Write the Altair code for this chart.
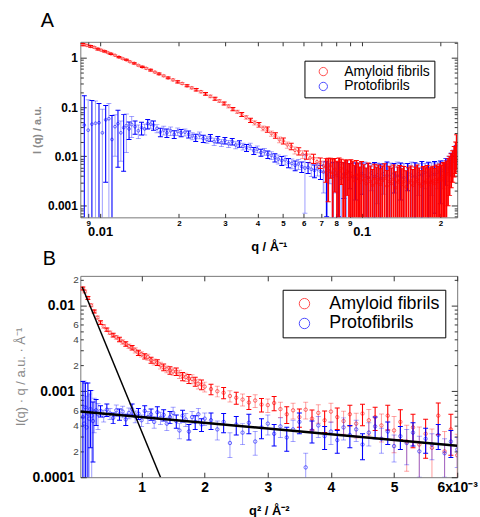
import altair as alt
import pandas as pd

RED = "#ff0000"
BLUE = "#0000ff"
FONT = "Liberation Sans"
SERIES = ["Amyloid fibrils", "Protofibrils"]

# ---------------- Panel A : I(q) vs q (log-log) ----------------
qA_red_smooth = [0.0086, 0.0089, 0.0092, 0.0095, 0.0098, 0.0101, 0.0104, 0.0107, 0.0110, 0.0114,
                 0.0118, 0.0122, 0.0126, 0.0130, 0.0135, 0.0140, 0.0145, 0.0150, 0.0156, 0.0162,
                 0.0168, 0.0175, 0.0182, 0.0190, 0.0198, 0.0206, 0.0215, 0.0224, 0.0233, 0.0243,
                 0.0253, 0.0264, 0.0275, 0.0286, 0.0298, 0.0310, 0.0322, 0.0335, 0.0348, 0.0362,
                 0.0376, 0.0390, 0.0405, 0.0420, 0.0436, 0.0452, 0.0468, 0.0485, 0.0502, 0.0520,
                 0.0538, 0.0556, 0.0575, 0.0595, 0.0615, 0.0635, 0.0655, 0.0675, 0.0695, 0.0715]
IA_red_smooth = [1.85, 1.78, 1.70, 1.62, 1.50, 1.42, 1.35, 1.27, 1.20, 1.12,
                 1.03, 0.96, 0.90, 0.83, 0.77, 0.70, 0.65, 0.61, 0.56, 0.51,
                 0.47, 0.43, 0.39, 0.355, 0.325, 0.30, 0.27, 0.245, 0.225, 0.205,
                 0.185, 0.165, 0.148, 0.133, 0.118, 0.104, 0.091, 0.080, 0.071, 0.062,
                 0.054, 0.048, 0.044, 0.037, 0.0352, 0.0292, 0.0268, 0.0218, 0.0206, 0.0171,
                 0.0160, 0.0133, 0.0128, 0.0110, 0.0108, 0.0093, 0.0091, 0.0078, 0.0075, 0.0064]
relerrA_red_smooth = [0.05, 0.04, 0.04, 0.04, 0.04, 0.04, 0.03, 0.03, 0.03, 0.03,
                      0.03, 0.03, 0.03, 0.03, 0.03, 0.03, 0.03, 0.04, 0.04, 0.04,
                      0.04, 0.04, 0.04, 0.05, 0.05, 0.05, 0.05, 0.05, 0.06, 0.06,
                      0.06, 0.06, 0.07, 0.07, 0.07, 0.08, 0.08, 0.08, 0.09, 0.09,
                      0.10, 0.10, 0.11, 0.11, 0.12, 0.12, 0.13, 0.13, 0.14, 0.15,
                      0.15, 0.16, 0.17, 0.18, 0.19, 0.20, 0.21, 0.22, 0.24, 0.26]
qA_red_noisy = [0.0730, 0.0745, 0.0760, 0.0775, 0.0790, 0.0805, 0.0820, 0.0835, 0.0850, 0.0865,
                0.0880, 0.0895, 0.0910, 0.0925, 0.0940, 0.0955, 0.0970, 0.0985, 0.1000, 0.1020,
                0.1040, 0.1060, 0.1080, 0.1100, 0.1120, 0.1140, 0.1160, 0.1180, 0.1200, 0.1225,
                0.1250, 0.1275, 0.1300, 0.1325, 0.1350, 0.1375, 0.1400, 0.1425, 0.1450, 0.1480,
                0.1510, 0.1540, 0.1570, 0.1600, 0.1630, 0.1660, 0.1690, 0.1720, 0.1750, 0.1780,
                0.1810, 0.1840, 0.1870, 0.1900, 0.1930, 0.1960, 0.1990, 0.2020, 0.2050, 0.2080,
                0.2110, 0.2140, 0.2170, 0.2200, 0.2230, 0.2260, 0.2290, 0.2310]
IA_red_noisy = [0.0060, 0.0052, 0.0064, 0.0046, 0.0055, 0.0041, 0.0049, 0.0057, 0.0038, 0.0044,
                0.0050, 0.0035, 0.0045, 0.0039, 0.0032, 0.0042, 0.0036, 0.0030, 0.0040, 0.0033,
                0.0028, 0.0037, 0.0031, 0.0026, 0.0035, 0.0029, 0.0034, 0.0027, 0.0032, 0.0036,
                0.0025, 0.0031, 0.0028, 0.0034, 0.0023, 0.0030, 0.0033, 0.0027, 0.0031, 0.0024,
                0.0029, 0.0032, 0.0026, 0.0030, 0.0034, 0.0028, 0.0025, 0.0031, 0.0029, 0.0033,
                0.0027, 0.0030, 0.0032, 0.0028, 0.0034, 0.0031, 0.0036, 0.0033, 0.0039, 0.0037,
                0.0043, 0.0050, 0.0058, 0.0068, 0.0080, 0.0098, 0.0120, 0.0165]
errA_red_noisy = [0.0030, 0.0040, 0.0028, 0.0042, 0.0036, 0.0039, 0.0044, 0.0030, 0.0038, 0.0040,
                  0.0034, 0.0036, 0.0040, 0.0041, 0.0034, 0.0040, 0.0037, 0.0031, 0.0039, 0.0035,
                  0.0030, 0.0036, 0.0033, 0.0028, 0.0034, 0.0031, 0.0033, 0.0029, 0.0032, 0.0035,
                  0.0027, 0.0032, 0.0030, 0.0033, 0.0026, 0.0031, 0.0032, 0.0029, 0.0031, 0.0027,
                  0.0030, 0.0032, 0.0028, 0.0031, 0.0033, 0.0030, 0.0027, 0.0031, 0.0030, 0.0032,
                  0.0029, 0.0030, 0.0031, 0.0029, 0.0033, 0.0031, 0.0034, 0.0032, 0.0036, 0.0035,
                  0.0038, 0.0040, 0.0042, 0.0045, 0.0050, 0.0060, 0.0075, 0.0110]

qA_blue = [0.0087, 0.0090, 0.0093, 0.0096, 0.0099, 0.0102, 0.0105, 0.0108, 0.0111, 0.0114,
           0.0117, 0.0120, 0.0123, 0.0126, 0.0129, 0.0132, 0.0136, 0.0140, 0.0144, 0.0148,
           0.0152, 0.0156, 0.0160, 0.0165, 0.0170, 0.0175, 0.0180, 0.0186, 0.0192, 0.0198,
           0.0204, 0.0211, 0.0218, 0.0225, 0.0232, 0.0240, 0.0248, 0.0256, 0.0264, 0.0273,
           0.0282, 0.0291, 0.0300, 0.0310, 0.0320, 0.0330, 0.0341, 0.0352, 0.0363, 0.0375,
           0.0387, 0.0399, 0.0412, 0.0425, 0.0438, 0.0452, 0.0466, 0.0480, 0.0495, 0.0510,
           0.0525, 0.0541, 0.0557, 0.0573, 0.0590, 0.0607, 0.0624, 0.0642, 0.0660, 0.0678, 0.0696]
IA_blue = [0.043, 0.034, 0.045, 0.047, 0.048, 0.030, 0.055, 0.058, 0.022, 0.040,
           0.046, 0.030, 0.038, 0.042, 0.036, 0.044, 0.040, 0.033, 0.038, 0.036,
           0.046, 0.045, 0.043, 0.037, 0.031, 0.034, 0.030, 0.033, 0.028, 0.032,
           0.030, 0.031, 0.028, 0.026, 0.024, 0.027, 0.023, 0.022, 0.024, 0.020,
           0.022, 0.019, 0.021, 0.018, 0.020, 0.017, 0.018, 0.016, 0.015, 0.016,
           0.013, 0.014, 0.012, 0.0125, 0.011, 0.0105, 0.0095, 0.0088, 0.0082, 0.0085,
           0.0075, 0.0072, 0.0066, 0.0070, 0.0062, 0.0058, 0.0060, 0.0055, 0.0052, 0.0056, 0.0050]
errA_blue = [0.127, 0.106, 0.090, 0.085, 0.070, 0.060, 0.052, 0.060, 0.045, 0.030,
             0.040, 0.022, 0.033, 0.030, 0.014, 0.020, 0.012, 0.010, 0.011, 0.009,
             0.010, 0.008, 0.009, 0.007, 0.006, 0.007, 0.006, 0.0065, 0.005, 0.0055,
             0.005, 0.005, 0.0045, 0.0042, 0.004, 0.0042, 0.0038, 0.0036, 0.0038, 0.0033,
             0.0034, 0.0031, 0.0032, 0.0029, 0.003, 0.0027, 0.0027, 0.0025, 0.0024, 0.0024,
             0.0021, 0.0022, 0.002, 0.002, 0.0019, 0.0019, 0.0018, 0.0018, 0.0017, 0.0018,
             0.0016, 0.0016, 0.0015, 0.0016, 0.0015, 0.0051, 0.0015, 0.0016, 0.0015, 0.0016, 0.0016]
qA_blue_noisy = [0.0715, 0.0735, 0.0755, 0.0775, 0.0795, 0.0815, 0.0835, 0.0855, 0.0875, 0.0900,
                 0.0925, 0.0950, 0.0975, 0.1000, 0.1030, 0.1060, 0.1090, 0.1120, 0.1150, 0.1180,
                 0.1210, 0.1250, 0.1290, 0.1330, 0.1370, 0.1410, 0.1450, 0.1500, 0.1550, 0.1600,
                 0.1650, 0.1700, 0.1750, 0.1800, 0.1850, 0.1900, 0.1950, 0.2000, 0.2050, 0.2100,
                 0.2150, 0.2200, 0.2250, 0.2300]
IA_blue_noisy = [0.0048, 0.0042, 0.0050, 0.0039, 0.0046, 0.0041, 0.0036, 0.0044, 0.0040, 0.0047,
                 0.0038, 0.0043, 0.0035, 0.0045, 0.0040, 0.0037, 0.0046, 0.0039, 0.0042, 0.0036,
                 0.0044, 0.0041, 0.0038, 0.0045, 0.0040, 0.0043, 0.0037, 0.0046, 0.0041, 0.0039,
                 0.0044, 0.0042, 0.0047, 0.0040, 0.0045, 0.0043, 0.0048, 0.0046, 0.0052, 0.0058,
                 0.0066, 0.0078, 0.0095, 0.0120]
errA_blue_noisy = [0.0030, 0.0036, 0.0022, 0.0037, 0.0028, 0.0035, 0.0033, 0.0030, 0.0038, 0.0025,
                   0.0036, 0.0030, 0.0034, 0.0028, 0.0037, 0.0035, 0.0026, 0.0036, 0.0031, 0.0034,
                   0.0027, 0.0036, 0.0035, 0.0027, 0.0037, 0.0030, 0.0035, 0.0026, 0.0036, 0.0035,
                   0.0028, 0.0037, 0.0025, 0.0036, 0.0029, 0.0036, 0.0026, 0.0035, 0.0030, 0.0032,
                   0.0035, 0.0038, 0.0040, 0.0045]

# ---------------- Panel B : I(q)*q vs q^2 (Guinier) ----------------
# q^2 in units of 1e-3 A^-2, I*q in units of 1e-4
q2B_red_milli = [0.07, 0.10, 0.15, 0.20, 0.25, 0.30, 0.35, 0.40, 0.45, 0.50,
                 0.55, 0.60, 0.65, 0.70, 0.75, 0.80, 0.85, 0.90, 0.95, 1.00,
                 1.05, 1.10, 1.15, 1.20, 1.25, 1.30, 1.35, 1.40, 1.45, 1.50,
                 1.55, 1.60, 1.65, 1.70, 1.75, 1.80, 1.85, 1.90, 1.95, 2.00,
                 2.1, 2.2, 2.3, 2.4, 2.5, 2.6, 2.7, 2.8, 2.9, 3.0,
                 3.1, 3.2, 3.3, 3.4, 3.5, 3.6, 3.7, 3.8, 3.9, 4.0,
                 4.1, 4.2, 4.3, 4.4, 4.5, 4.6, 4.7, 4.8, 4.9, 5.0,
                 5.1, 5.2, 5.3, 5.4, 5.5, 5.6, 5.7, 5.8, 5.9, 6.0]
IqB_red_e4 = [157, 145, 122, 100, 85, 72, 63, 57, 52, 48,
              45, 42.5, 40, 37.5, 35.5, 33.5, 32.2, 30, 28.0, 27,
              25.5, 25.0, 23, 22, 21.6, 20, 19, 18.0, 17.5, 17,
              16.9, 15.8, 14.9, 14.6, 14, 13.9, 13, 12.2, 12, 11.3,
              10.6, 10.0, 9.6, 8.8, 8.4, 8.0, 7.4, 7.8, 7.0, 6.9,
              7.3, 6.2, 5.4, 6.0, 5.0, 6.1, 4.8, 5.6, 4.6, 5.8,
              5.0, 4.5, 5.4, 4.2, 5.5, 4.6, 5.0, 4.0, 5.2, 3.5,
              4.4, 2.6, 3.8, 2.4, 3.2, 2.2, 5.2, 2.0, 3.6, 1.8]
relerrB_red = [0.04, 0.04, 0.04, 0.04, 0.04, 0.04, 0.05, 0.05, 0.05, 0.05,
               0.05, 0.05, 0.06, 0.06, 0.06, 0.06, 0.06, 0.07, 0.07, 0.07,
               0.07, 0.08, 0.08, 0.08, 0.08, 0.09, 0.09, 0.09, 0.10, 0.10,
               0.10, 0.11, 0.11, 0.11, 0.12, 0.12, 0.12, 0.13, 0.13, 0.13,
               0.14, 0.14, 0.15, 0.15, 0.16, 0.16, 0.17, 0.17, 0.18, 0.18,
               0.19, 0.20, 0.22, 0.21, 0.24, 0.22, 0.26, 0.24, 0.28, 0.25,
               0.28, 0.30, 0.27, 0.32, 0.28, 0.33, 0.30, 0.36, 0.32, 0.45,
               0.38, 0.55, 0.42, 0.60, 0.48, 0.65, 0.40, 0.70, 0.50, 0.75]

q2B_blue_milli = [0.07, 0.09, 0.11, 0.13, 0.15, 0.17, 0.19, 0.21, 0.23, 0.25, 0.28, 0.31,
                  0.35, 0.40, 0.45, 0.50, 0.55, 0.60, 0.65, 0.70, 0.75, 0.80,
                  0.85, 0.90, 0.95, 1.00, 1.05, 1.10, 1.15, 1.20, 1.25, 1.30,
                  1.35, 1.40, 1.45, 1.50, 1.55, 1.60, 1.65, 1.70, 1.75, 1.80,
                  1.85, 1.90, 1.95, 2.00,
                  2.1, 2.2, 2.3, 2.4, 2.5, 2.6, 2.7, 2.8, 2.9, 3.0,
                  3.1, 3.2, 3.3, 3.4, 3.5, 3.6, 3.7, 3.8, 3.9, 4.0,
                  4.1, 4.2, 4.3, 4.4, 4.5, 4.6, 4.7, 4.8, 4.9, 5.0,
                  5.1, 5.2, 5.3, 5.4, 5.5, 5.6, 5.7, 5.8, 5.9, 6.0]
IqB_blue_e4 = [5.0, 4.2, 6.5, 3.8, 5.5, 4.8, 6.2, 5.2, 4.5, 5.8, 6.0, 5.4,
               5.9, 5.2, 6.1, 5.5, 4.9, 6.0, 5.4, 5.8, 4.7, 5.6,
               6.2, 5.1, 5.5, 4.6, 5.9, 5.0, 5.4, 4.4, 5.7, 4.9,
               5.3, 4.2, 5.0, 5.6, 4.5, 3.5, 5.2, 4.7, 3.4, 5.0,
               4.4, 5.4, 4.1, 4.8,
               4.6, 3.6, 4.4, 2.5, 4.1, 3.3, 4.3, 2.6, 3.8, 4.2,
               3.2, 3.9, 2.9, 3.6, 4.4, 1.3, 3.5, 4.0, 3.0, 3.4,
               2.7, 3.8, 3.1, 3.6, 2.4, 3.3, 3.9, 2.8, 3.4, 2.3,
               3.0, 2.5, 3.3, 2.0, 2.8, 2.4, 3.1, 1.9, 2.6, 2.1]
errB_blue_e4 = [8, 9, 6, 5, 7, 4.5, 4, 5, 3, 2.5, 2.0, 1.8,
                0.9, 0.8, 1.0, 0.8, 0.7, 0.9, 0.8, 0.9, 0.7, 0.8,
                0.9, 0.8, 0.8, 0.7, 0.9, 0.8, 0.8, 0.7, 0.9, 0.8,
                0.8, 0.7, 0.8, 0.9, 0.8, 0.7, 0.8, 0.8, 0.7, 0.8,
                0.8, 0.9, 0.7, 0.8,
                1.0, 0.9, 1.1, 0.8, 1.0, 0.9, 1.1, 0.8, 1.0, 1.1,
                0.9, 1.0, 0.9, 1.0, 1.2, 0.6, 1.0, 1.1, 0.9, 1.0,
                0.8, 1.1, 0.9, 1.0, 0.8, 1.0, 1.1, 0.9, 1.0, 0.8,
                0.9, 1.1, 1.0, 1.0, 0.9, 0.8, 1.0, 0.9, 0.9, 0.8]

# Guinier fit lines (end points)
fit_steep_x = [0.00006, 0.0013]
fit_steep_y = [0.0163, 0.0001]
fit_flat_x = [0.00003, 0.006]
fit_flat_y = [0.00058, 0.000232]


def make_df(x, y, err, series, shades, widths):
    df = pd.DataFrame({"x": x, "y": y, "err": err})
    df["lo"] = (df["y"] - df["err"]).clip(lower=1e-7)
    df["hi"] = df["y"] + df["err"]
    df["series"] = series
    df["shade"] = shades
    df["w"] = widths
    return df


def alt_shades(n):
    return ["dark" if i % 2 == 0 else "light" for i in range(n)]


nrs, nrn = len(qA_red_smooth), len(qA_red_noisy)
dfA_red = make_df(qA_red_smooth + qA_red_noisy,
                  IA_red_smooth + IA_red_noisy,
                  [i * r for i, r in zip(IA_red_smooth, relerrA_red_smooth)] + errA_red_noisy,
                  SERIES[0],
                  alt_shades(nrs) + ["dark"] * nrn,
                  [1.1] * nrs + [1.8] * nrn)
nbs, nbn = len(qA_blue), len(qA_blue_noisy)
dfA_blue = make_df(qA_blue + qA_blue_noisy, IA_blue + IA_blue_noisy,
                   errA_blue + errA_blue_noisy, SERIES[1],
                   alt_shades(nbs + nbn), [1.1] * nbs + [1.6] * nbn)

yB_red = [v * 1e-4 for v in IqB_red_e4]
dfB_red = make_df([v * 1e-3 for v in q2B_red_milli], yB_red,
                  [y * r for y, r in zip(yB_red, relerrB_red)], SERIES[0],
                  alt_shades(len(yB_red)), [1.1] * len(yB_red))
dfB_blue = make_df([v * 1e-3 for v in q2B_blue_milli], [v * 1e-4 for v in IqB_blue_e4],
                   [v * 1e-4 for v in errB_blue_e4], SERIES[1],
                   alt_shades(len(IqB_blue_e4)), [1.1] * len(IqB_blue_e4))
df_steep = pd.DataFrame({"x": fit_steep_x, "y": fit_steep_y})
df_flat = pd.DataFrame({"x": fit_flat_x, "y": fit_flat_y})

# ---------------- axes helpers ----------------
MAJ = "abs(log(datum.value) / LN10 - round(log(datum.value) / LN10)) < 0.001"
MANT = "round(datum.value / pow(10, floor(log(datum.value) / LN10 + 0.000001)))"


def cond(test, a, b):
    return {"condition": {"test": test, "value": a}, "value": b}


def log_ticks(lo, hi):
    out = []
    for e in range(-5, 2):
        for m in range(1, 10):
            v = m * 10.0 ** e
            if lo <= v <= hi:
                out.append(v)
    return out


xA_ticks = [0.009, 0.01, 0.02, 0.03, 0.04, 0.05, 0.06, 0.07, 0.08, 0.09, 0.1, 0.2]
yA_ticks = log_ticks(0.00058, 2.1)
xB_ticks = [0.001, 0.002, 0.003, 0.004, 0.005, 0.006]
yB_ticks = log_ticks(0.0001, 0.022)

common = dict(domain=False, grid=False, tickColor="#333", tickWidth=1,
              labelOverlap=False, labelFlush=False, labelFont=FONT)

axA_bottom = alt.Axis(values=xA_ticks, orient="bottom",
                      labelExpr=f"{MAJ} ? format(datum.value, '~g') : '' + {MANT}",
                      labelFontWeight="bold", labelFontSize=cond(MAJ, 13, 8), labelColor="black",
                      labelPadding=cond(MAJ, 12, 6), tickSize=cond(MAJ, -4, -4),
                      title="q / Å⁻¹", titleFont=FONT, titleFontWeight="bold", titleFontSize=13,
                      titleColor="black", titlePadding=2, **common)
axA_top = alt.Axis(values=xA_ticks, orient="top", labels=False, tickSize=cond(MAJ, -4, -4),
                   title=None, domain=False, grid=False, tickColor="#333")
axA_left = alt.Axis(values=yA_ticks, orient="left",
                    labelExpr=f"{MAJ} ? format(datum.value, '~g') : ''",
                    labelFontWeight="bold", labelFontSize=12, labelColor="black",
                    labelPadding=cond(MAJ, 9, 9), tickSize=cond(MAJ, -6, -3),
                    title="I (q) / a.u.", titleFont=FONT, titleFontWeight="bold", titleFontSize=11,
                    titleColor="#8a8a8a", titlePadding=5, **common)
axA_right = alt.Axis(values=yA_ticks, orient="right", labels=False, tickSize=cond(MAJ, -6, -3),
                     title=None, domain=False, grid=False, tickColor="#333")

axB_bottom = alt.Axis(values=xB_ticks, orient="bottom",
                      labelExpr="datum.value > 0.0055 ? '6x10⁻³' : '' + round(datum.value * 1000)",
                      labelFontWeight="bold", labelFontSize=14, labelColor="black",
                      labelPadding=cond("true", 8, 8), tickSize=cond("true", -5, -5),
                      title="q² / Å⁻²", titleFont=FONT, titleFontWeight="bold", titleFontSize=13,
                      titleColor="black", titlePadding=11, **common)
axB_top = alt.Axis(values=xB_ticks, orient="top", labels=False, tickSize=cond("true", -5, -5),
                   title=None, domain=False, grid=False, tickColor="#333")
axB_left = alt.Axis(values=yB_ticks, orient="left",
                    labelExpr=f"{MAJ} ? format(datum.value, '~g') : (indexof([2, 4, 6], {MANT}) >= 0 ? '' + {MANT} : '')",
                    labelFontWeight=cond(MAJ, "bold", "normal"), labelFontSize=cond(MAJ, 14, 10),
                    labelColor=cond(MAJ, "black", "#444"),
                    labelPadding=cond(MAJ, 12, 5), tickSize=cond(MAJ, -6, -3),
                    title="I(q) · q / a.u. · Å⁻¹", titleFont=FONT, titleFontWeight="normal",
                    titleFontSize=13, titleColor="#8a8a8a", titlePadding=4, **common)
axB_right = alt.Axis(values=yB_ticks, orient="right", labels=False, tickSize=cond(MAJ, -6, -3),
                     title=None, domain=False, grid=False, tickColor="#333")

xA_scale = alt.Scale(type="log", domain=[0.0084, 0.232], nice=False)
yA_scale = alt.Scale(type="log", domain=[0.00058, 2.1], nice=False)
xB_scale = alt.Scale(type="linear", domain=[0.00003, 0.006], nice=False, zero=False)
yB_scale = alt.Scale(type="log", domain=[0.0001, 0.022], nice=False)
color_scale = alt.Scale(domain=SERIES, range=[RED, BLUE])

legA = alt.Legend(title=None, orient="none", legendX=226, legendY=19, fillColor="white",
                  strokeColor="black", padding=4, labelFont=FONT, labelFontSize=14,
                  labelColor="black", symbolType="circle", symbolSize=70, symbolStrokeWidth=1,
                  labelOffset=14, rowPadding=1, symbolOffset=8, cornerRadius=0)
legB = alt.Legend(title=None, orient="none", legendX=204, legendY=14, fillColor="white",
                  strokeColor="black", padding=5, labelFont=FONT, labelFontSize=18,
                  labelColor="black", symbolType="circle", symbolSize=110, symbolStrokeWidth=1,
                  labelOffset=16, rowPadding=2, symbolOffset=8, cornerRadius=0)


def err_layers(df, color, xs, ys, legend, ax_b=None, ax_l=None, ax_t=None, ax_r=None, pt=8):
    op = alt.condition("datum.shade == 'dark'", alt.value(1.0), alt.value(0.35))
    rules = alt.Chart(df).mark_rule(clip=True, color=color).encode(
        x=alt.X("x:Q", scale=xs, axis=ax_b),
        y=alt.Y("lo:Q", scale=ys, axis=ax_l),
        y2="hi:Q",
        opacity=op,
        strokeWidth=alt.StrokeWidth("w:Q", scale=None),
    )
    caps = alt.Chart(df).transform_fold(["lo", "hi"], as_=["end", "yv"]).mark_tick(
        clip=True, orient="horizontal", size=5, thickness=1, color=color, fill=color, opacity=1
    ).encode(
        x=alt.X("x:Q", scale=xs, axis=ax_t),
        y=alt.Y("yv:Q", scale=ys, axis=ax_r),
        opacity=op,
    )
    pts = alt.Chart(df).mark_point(clip=True, filled=False, size=pt, strokeWidth=0.8).encode(
        x=alt.X("x:Q", scale=xs, axis=None),
        y=alt.Y("y:Q", scale=ys, axis=None),
        color=alt.Color("series:N", scale=color_scale, legend=legend),
    )
    return [rules, caps, pts]


layersA = (err_layers(dfA_blue, BLUE, xA_scale, yA_scale, legA, axA_bottom, axA_left, axA_top, axA_right)
           + err_layers(dfA_red, RED, xA_scale, yA_scale, legA, None, None, None, None))
panelA = alt.layer(*layersA).resolve_axis(x="independent", y="independent").properties(
    width=380, height=177,
    title=alt.TitleParams("A", anchor="start", frame="group", dx=-40, fontSize=20,
                          fontWeight="normal", font=FONT, color="black", offset=6),
)

line_steep = alt.Chart(df_steep).mark_line(clip=True, color="black", strokeWidth=1.5).encode(
    x=alt.X("x:Q", scale=xB_scale, axis=None), y=alt.Y("y:Q", scale=yB_scale, axis=None))
line_flat = alt.Chart(df_flat).mark_line(clip=True, color="black", strokeWidth=2.5).encode(
    x=alt.X("x:Q", scale=xB_scale, axis=None), y=alt.Y("y:Q", scale=yB_scale, axis=None))

layersB = (err_layers(dfB_red, RED, xB_scale, yB_scale, legB, axB_bottom, axB_left, axB_top, axB_right, pt=12)
           + err_layers(dfB_blue, BLUE, xB_scale, yB_scale, legB, None, None, None, None, pt=12)
           + [line_steep, line_flat])
panelB = alt.layer(*layersB).resolve_axis(x="independent", y="independent").properties(
    width=380, height=203,
    title=alt.TitleParams("B", anchor="start", frame="group", dx=-38, fontSize=20,
                          fontWeight="normal", font=FONT, color="black", offset=6),
)

chart = alt.vconcat(panelA, panelB, spacing=-6).resolve_scale(color="independent").resolve_legend(
    color="independent"
).properties(
    padding={"left": 14, "top": 8, "right": 2, "bottom": 0}
).configure_view(stroke="#777", strokeWidth=1)

chart.save("out.html", embed_options={"renderer": "svg", "actions": False})
